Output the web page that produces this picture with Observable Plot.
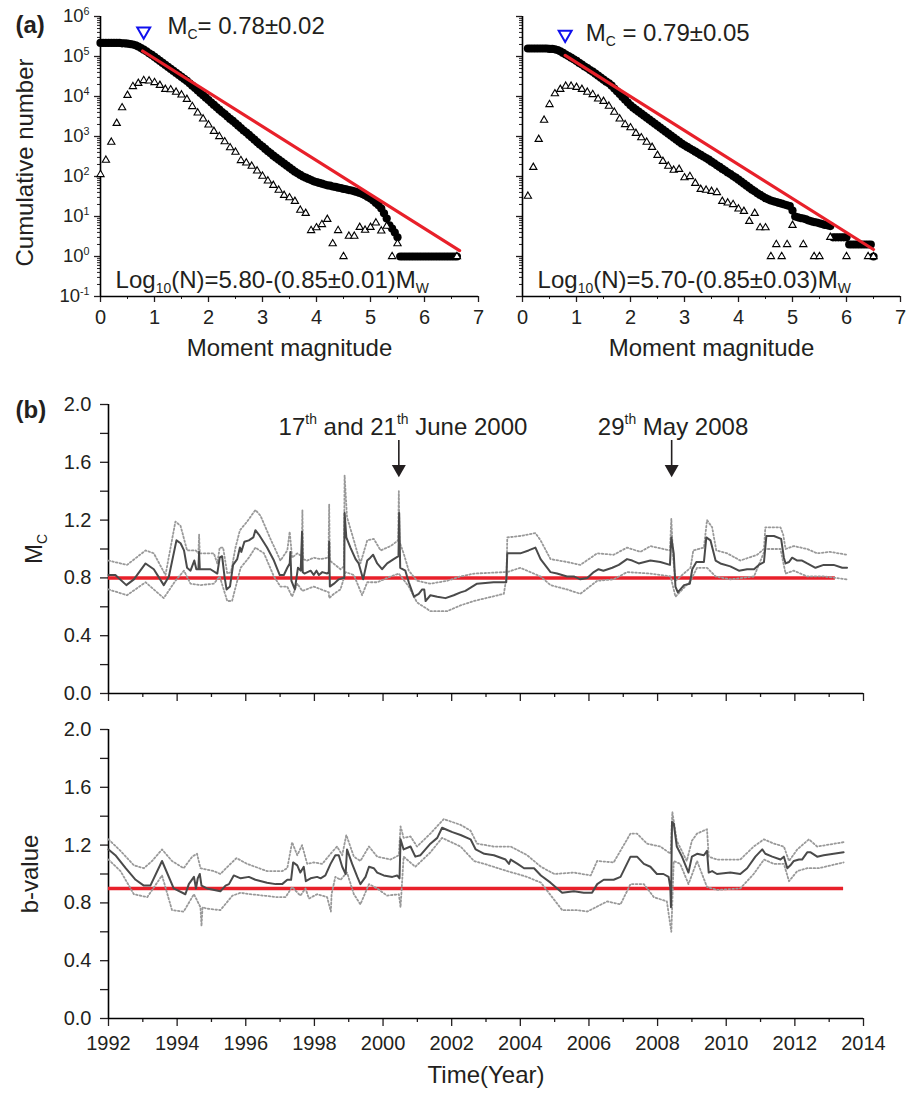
<!DOCTYPE html>
<html><head><meta charset="utf-8">
<script src="https://cdn.jsdelivr.net/npm/d3@7"></script>
<script src="https://cdn.jsdelivr.net/npm/@observablehq/plot@0.6"></script>
<style>
body{margin:0;background:#fff;}
#fig{position:relative;width:907px;height:1094px;overflow:hidden;}
</style></head><body><div id="fig"></div>
<script>
// ---------- DATA: panel (a) ----------
const cumStep = 0.05, incStep = 0.1;
// left: log10 of cumulative number, magnitudes from 0.00 step 0.05
const cumLeftStart = 0.0;
const cumLeftLog = [5.34,5.34,5.34,5.34,5.34,5.34,5.34,5.34,5.33,5.33,5.32,5.31,5.30,5.28,5.25,5.21,5.17,
 5.13,5.08,5.04,4.99,4.94,4.89,4.84,4.79,4.74,4.69,
 4.64,4.59,4.54,4.49,4.44,4.39,4.33,4.27,4.21,4.15,
 4.09,4.03,3.97,3.91,3.85,3.79,3.73,3.67,3.61,3.56,
 3.50,3.44,3.39,3.33,3.27,3.21,3.15,3.10,3.04,2.98,
 2.92,2.86,2.80,2.75,2.69,2.63,2.58,2.52,2.47,2.42,
 2.37,2.32,2.27,2.22,2.17,2.12,2.08,2.04,2.00,1.97,
 1.94,1.91,1.88,1.86,1.84,1.82,1.80,1.78,1.77,1.75,
 1.74,1.72,1.71,1.69,1.68,1.66,1.65,1.63,1.61,1.59,
 1.56,1.53,1.49,1.45,1.40,1.34,1.28,1.20,1.08,0.95,
 0.78,0.70,0.60,0.48,
 0,0,0,0,0,0,0,0,0,0,0,0,0,0,0,0,0,0,0,0,0,0];
// left: log10 of non-cumulative number, magnitudes from 0.0 step 0.1 (null = none)
const incLeftStart = 0.0;
const incLeftLog = [2.05,2.41,2.86,3.33,3.72,4.03,4.25,4.33,4.40,4.39,
 4.35,4.28,4.18,4.17,4.11,4.04,3.93,3.75,3.59,3.44,
 3.29,3.13,3.00,2.87,2.72,2.61,2.40,2.34,2.26,2.14,
 2.01,1.89,1.78,1.66,1.53,1.47,1.38,1.16,1.08,0.65,
 0.72,0.80,0.93,0.32,0.65,0,0.51,0.51,0.73,0.66,
 0.73,0.84,0.64,0.76,0,0.32,null,null,null,null,
 null,null,null,null,null,null,0];
// right
const cumRightStart = 0.1;
const cumRightLog = [5.20,5.20,5.20,5.20,5.20,5.20,5.20,5.20,5.19,5.19,
 5.18,5.16,5.13,5.09,5.05,5.01,4.97,4.93,4.89,4.84,
 4.80,4.75,4.71,4.66,4.62,4.57,4.52,4.47,4.42,4.37,
 4.33,4.27,4.20,4.13,4.06,3.99,3.92,3.85,3.78,3.72,
 3.67,3.62,3.57,3.52,3.47,3.42,3.37,3.32,3.27,3.22,
 3.17,3.12,3.07,3.02,2.97,2.92,2.87,2.82,2.78,2.74,
 2.70,2.66,2.62,2.58,2.54,2.50,2.46,2.42,2.37,2.33,
 2.28,2.24,2.19,2.15,2.10,2.06,2.01,1.97,1.92,1.87,
 1.82,1.77,1.72,1.67,1.63,1.58,1.54,1.50,1.46,1.43,
 1.40,1.38,1.36,1.34,1.32,1.30,1.28,1.26,1.15,1.00,
 0.98,0.96,0.95,0.93,0.90,0.88,0.86,0.85,0.83,0.81,
 0.79,0.78,0.76,0.48,0.48,0.48,0.48,0.48,0.48,0.30,
 0.30,0.30,0.30,0.30,0.30,0.30,0.30,0.30,0];
const incRightStart = 0.1;
const incRightLog = [1.51,2.23,2.93,3.41,3.80,4.07,4.18,4.26,4.26,4.23,
 4.18,4.11,4.05,3.94,3.88,3.76,3.61,3.44,3.30,3.22,
 3.08,2.97,2.86,2.73,2.53,2.38,2.26,2.16,2.18,1.97,
 2.00,1.83,1.68,1.66,1.63,1.60,1.38,1.34,1.30,1.19,
 1.13,0.88,1.08,0.72,0.72,0,0.30,0,0.30,0.78,
 null,0.30,null,0,0,null,0.48,null,null,0,
 null,null,null,0,0];
// Gutenberg-Richter fits: log10(N) = a - b*Mw, drawn from Mc to the largest event
const fitLeft = {a: 5.80, b: 0.85, mFrom: 0.78, mTo: 6.65};
const fitRight = {a: 5.70, b: 0.85, mFrom: 0.79, mTo: 6.50};
const mcMarkLeft = {m: 0.80, logN: 5.63};
const mcMarkRight = {m: 0.79, logN: 5.55};
const xTicksA = [0,1,2,3,4,5,6,7];
const yDecadesA = [0.1,1,10,100,1e3,1e4,1e5,1e6];

// ---------- DATA: panel (b) ----------
const mcMain = [[1992.0,0.82],[1992.2,0.82],[1992.52,0.75],[1992.74,0.79],[1993.08,0.90],[1993.32,0.86],[1993.61,0.75],[1993.76,0.81],[1993.98,1.06],[1994.1,1.04],[1994.2,0.99],[1994.29,0.87],[1994.39,0.85],[1994.5,0.92],[1994.56,0.86],[1994.62,0.86],[1994.64,0.98],[1994.66,0.86],[1994.97,0.86],[1995.17,0.83],[1995.24,0.94],[1995.31,0.95],[1995.38,0.81],[1995.44,0.72],[1995.54,0.74],[1995.63,0.89],[1995.75,0.93],[1995.83,1.01],[1995.87,0.98],[1995.96,1.05],[1996.09,1.06],[1996.22,1.08],[1996.28,1.13],[1996.38,1.10],[1996.62,1.01],[1996.82,0.92],[1996.99,0.82],[1997.11,0.82],[1997.21,0.87],[1997.28,0.90],[1997.3,0.98],[1997.33,0.78],[1997.43,0.72],[1997.52,0.87],[1997.6,0.85],[1997.64,1.12],[1997.66,0.84],[1997.71,0.83],[1997.89,0.85],[1997.98,0.82],[1998.06,0.85],[1998.13,0.82],[1998.23,0.84],[1998.37,0.83],[1998.42,0.84],[1998.43,1.05],[1998.45,0.74],[1998.57,0.76],[1998.71,0.79],[1998.84,0.80],[1998.87,0.80],[1998.88,1.25],[1998.93,1.08],[1999.05,1.01],[1999.2,0.93],[1999.29,0.90],[1999.42,0.79],[1999.54,0.92],[1999.63,0.94],[1999.71,0.96],[1999.83,0.90],[1999.97,0.86],[2000.12,0.90],[2000.31,0.93],[2000.45,0.95],[2000.47,1.25],[2000.5,0.87],[2000.65,0.85],[2000.75,0.77],[2000.9,0.67],[2001.04,0.69],[2001.14,0.72],[2001.2,0.72],[2001.24,0.64],[2001.38,0.68],[2001.58,0.67],[2001.82,0.66],[2002.06,0.68],[2002.26,0.70],[2002.4,0.71],[2002.74,0.76],[2003.22,0.77],[2003.59,0.77],[2003.62,0.97],[2004.0,0.97],[2004.24,0.99],[2004.44,1.01],[2004.59,0.93],[2004.88,0.84],[2005.07,0.83],[2005.36,0.81],[2005.56,0.81],[2005.75,0.79],[2005.95,0.80],[2006.14,0.84],[2006.28,0.86],[2006.42,0.85],[2006.68,0.87],[2006.87,0.89],[2007.11,0.93],[2007.26,0.92],[2007.45,0.90],[2007.79,0.92],[2008.08,0.91],[2008.36,0.89],[2008.40,1.08],[2008.47,0.97],[2008.52,0.74],[2008.59,0.70],[2008.77,0.75],[2008.94,0.76],[2009.01,0.86],[2009.13,0.91],[2009.35,0.91],[2009.42,1.08],[2009.54,1.06],[2009.69,0.92],[2009.83,0.90],[2010.12,0.88],[2010.37,0.85],[2010.61,0.86],[2010.81,0.86],[2010.95,0.89],[2011.1,0.91],[2011.17,1.09],[2011.39,1.09],[2011.6,1.07],[2011.68,0.94],[2011.73,0.90],[2011.83,0.91],[2011.92,0.94],[2012.07,0.92],[2012.21,0.92],[2012.36,0.90],[2012.6,0.87],[2012.84,0.89],[2013.13,0.89],[2013.38,0.87],[2013.52,0.87]];
const mcUpper = [[1992.0,0.92],[1992.54,0.89],[1993.08,0.99],[1993.32,0.97],[1993.66,0.82],[1993.95,1.19],[1994.1,1.16],[1994.29,0.99],[1994.54,0.99],[1994.62,0.97],[1994.64,1.10],[1994.66,0.97],[1995.07,0.97],[1995.17,0.90],[1995.24,1.01],[1995.34,1.01],[1995.46,0.83],[1995.57,0.84],[1995.7,1.01],[1995.83,1.13],[1996.04,1.19],[1996.28,1.27],[1996.43,1.23],[1996.72,1.07],[1997.01,0.92],[1997.21,0.99],[1997.28,1.12],[1997.35,0.94],[1997.5,0.97],[1997.63,0.95],[1997.65,1.27],[1997.67,0.93],[1997.79,0.92],[1997.98,0.94],[1998.18,0.93],[1998.41,0.94],[1998.43,1.31],[1998.45,0.92],[1998.76,0.86],[1998.86,0.88],[1998.88,1.51],[1998.95,1.22],[1999.15,1.06],[1999.34,0.90],[1999.54,1.06],[1999.73,1.07],[1999.93,0.99],[2000.22,1.02],[2000.44,1.06],[2000.46,1.40],[2000.48,1.05],[2000.6,0.97],[2000.75,0.85],[2000.99,0.78],[2001.38,0.76],[2001.87,0.78],[2002.26,0.81],[2002.65,0.83],[2003.52,0.84],[2003.6,0.84],[2003.62,1.08],[2004.0,1.09],[2004.44,1.11],[2004.59,1.06],[2004.88,0.93],[2005.36,0.91],[2005.75,0.89],[2006.24,0.97],[2006.72,0.96],[2007.11,1.01],[2007.5,0.98],[2007.79,1.02],[2008.36,0.99],[2008.40,1.21],[2008.45,0.95],[2008.52,0.78],[2008.96,0.87],[2009.04,0.99],[2009.35,1.01],[2009.44,1.20],[2009.59,1.15],[2009.71,0.99],[2010.03,0.97],[2010.41,0.92],[2010.9,0.96],[2011.1,1.00],[2011.14,1.15],[2011.58,1.15],[2011.66,1.10],[2011.73,1.00],[2011.97,1.02],[2012.36,1.00],[2012.65,0.97],[2013.03,0.98],[2013.52,0.96]];
const mcLower = [[1992.0,0.72],[1992.54,0.68],[1993.08,0.77],[1993.61,0.66],[1993.95,0.78],[1994.2,0.85],[1994.39,0.76],[1994.68,0.75],[1995.07,0.76],[1995.24,0.81],[1995.46,0.64],[1995.6,0.64],[1995.85,0.87],[1996.09,0.94],[1996.28,1.01],[1996.53,0.97],[1996.82,0.81],[1997.01,0.74],[1997.21,0.74],[1997.35,0.67],[1997.5,0.76],[1997.65,0.71],[1997.98,0.74],[1998.42,0.70],[1998.43,0.66],[1998.57,0.69],[1998.76,0.72],[1998.91,0.84],[1999.15,0.82],[1999.39,0.68],[1999.54,0.77],[1999.83,0.77],[2000.22,0.81],[2000.46,0.83],[2000.75,0.74],[2000.99,0.63],[2001.38,0.57],[2001.87,0.57],[2002.26,0.61],[2002.65,0.64],[2003.52,0.69],[2003.62,0.84],[2004.0,0.87],[2004.59,0.81],[2004.88,0.75],[2005.36,0.72],[2005.75,0.69],[2006.24,0.78],[2006.72,0.79],[2007.11,0.84],[2007.79,0.83],[2008.38,0.81],[2008.52,0.67],[2008.96,0.78],[2009.15,0.87],[2009.44,0.87],[2009.69,0.81],[2010.12,0.79],[2010.81,0.81],[2011.14,1.00],[2011.58,1.00],[2011.73,0.83],[2011.97,0.85],[2012.36,0.81],[2012.84,0.81],[2013.52,0.79]];
const bMain = [[1992.0,1.17],[1992.2,1.13],[1992.5,1.04],[1992.79,0.96],[1993.03,0.92],[1993.22,0.92],[1993.56,1.09],[1993.9,0.90],[1994.24,0.86],[1994.34,0.93],[1994.49,0.98],[1994.55,0.90],[1994.6,0.97],[1994.66,1.00],[1994.71,0.92],[1994.87,0.90],[1995.26,0.88],[1995.41,0.92],[1995.51,0.93],[1995.65,0.99],[1995.85,0.97],[1996.09,0.98],[1996.28,0.96],[1996.62,0.94],[1996.87,0.93],[1997.06,0.93],[1997.21,0.96],[1997.32,0.96],[1997.38,1.08],[1997.5,1.06],[1997.59,1.01],[1997.69,1.05],[1997.75,0.95],[1997.89,0.97],[1998.08,0.98],[1998.18,0.97],[1998.32,0.99],[1998.47,1.07],[1998.61,1.13],[1998.71,1.13],[1998.81,1.05],[1998.91,1.00],[1998.95,1.17],[1999.1,1.07],[1999.25,0.98],[1999.34,0.93],[1999.49,0.98],[1999.59,1.05],[1999.73,1.04],[1999.83,1.01],[2000.02,0.99],[2000.27,0.98],[2000.41,0.99],[2000.48,0.97],[2000.51,1.24],[2000.6,1.17],[2000.8,1.19],[2000.94,1.12],[2001.09,1.13],[2001.38,1.21],[2001.58,1.25],[2001.72,1.32],[2001.82,1.31],[2002.02,1.29],[2002.26,1.27],[2002.55,1.24],[2002.7,1.17],[2002.95,1.14],[2003.23,1.13],[2003.57,1.10],[2003.67,1.07],[2003.72,1.10],[2003.92,1.07],[2004.11,1.04],[2004.4,1.04],[2004.6,0.99],[2004.88,0.94],[2005.22,0.87],[2005.56,0.88],[2005.85,0.87],[2006.09,0.87],[2006.24,0.93],[2006.43,0.96],[2006.72,0.96],[2006.92,0.98],[2007.21,1.12],[2007.4,1.12],[2007.6,1.07],[2007.79,1.05],[2007.98,1.00],[2008.17,1.00],[2008.32,0.98],[2008.37,0.91],[2008.39,0.77],[2008.42,1.36],[2008.47,1.35],[2008.56,1.19],[2008.71,1.12],[2008.9,1.01],[2009.0,1.12],[2009.15,1.14],[2009.35,1.13],[2009.44,1.16],[2009.49,1.01],[2009.59,1.02],[2009.73,1.00],[2010.12,1.01],[2010.41,1.00],[2010.61,1.04],[2010.85,1.12],[2011.05,1.17],[2011.14,1.14],[2011.34,1.12],[2011.58,1.10],[2011.68,1.12],[2011.78,1.04],[2011.87,1.06],[2011.97,1.09],[2012.12,1.10],[2012.21,1.10],[2012.36,1.15],[2012.46,1.15],[2012.65,1.12],[2012.84,1.13],[2013.13,1.14],[2013.42,1.15]];
const bUpper = [[1992.0,1.24],[1992.35,1.16],[1992.74,1.06],[1993.03,1.04],[1993.27,1.09],[1993.56,1.17],[1993.85,1.09],[1994.19,1.04],[1994.44,1.12],[1994.58,1.14],[1994.68,1.04],[1995.07,1.02],[1995.26,1.00],[1995.51,1.06],[1995.73,1.11],[1996.04,1.07],[1996.62,1.02],[1997.06,1.02],[1997.21,1.04],[1997.35,1.22],[1997.5,1.13],[1997.64,1.20],[1997.79,1.07],[1997.98,1.08],[1998.23,1.07],[1998.47,1.14],[1998.66,1.19],[1998.81,1.13],[1998.93,1.27],[1999.15,1.12],[1999.34,1.09],[1999.59,1.19],[1999.83,1.12],[2000.22,1.10],[2000.46,1.13],[2000.51,1.33],[2000.6,1.25],[2000.8,1.26],[2000.99,1.19],[2001.38,1.28],[2001.77,1.38],[2002.26,1.34],[2002.55,1.30],[2002.74,1.21],[2003.23,1.19],[2003.72,1.19],[2004.2,1.13],[2004.6,1.05],[2004.99,1.00],[2005.56,1.01],[2006.05,0.99],[2006.24,1.09],[2006.72,1.08],[2007.21,1.28],[2007.4,1.28],[2007.69,1.21],[2008.08,1.19],[2008.38,1.14],[2008.43,1.43],[2008.56,1.23],[2008.85,1.09],[2009.0,1.23],[2009.15,1.28],[2009.44,1.31],[2009.49,1.12],[2009.73,1.10],[2010.41,1.10],[2010.8,1.19],[2011.1,1.24],[2011.39,1.21],[2011.68,1.19],[2011.83,1.09],[2012.07,1.17],[2012.41,1.24],[2012.65,1.19],[2013.42,1.22]];
const bLower = [[1992.0,1.10],[1992.35,1.02],[1992.74,0.86],[1993.13,0.84],[1993.56,0.99],[1993.85,0.75],[1994.19,0.74],[1994.49,0.86],[1994.68,0.77],[1994.71,0.64],[1994.74,0.77],[1994.87,0.76],[1995.26,0.75],[1995.61,0.85],[1995.85,0.87],[1996.14,0.86],[1996.53,0.85],[1996.91,0.84],[1997.16,0.84],[1997.35,0.91],[1997.59,0.85],[1997.74,0.90],[1997.84,0.83],[1998.08,0.86],[1998.37,0.84],[1998.48,0.74],[1998.5,0.86],[1998.61,0.98],[1998.76,0.96],[1998.95,1.01],[1999.15,0.86],[1999.34,0.79],[1999.59,0.93],[1999.83,0.90],[2000.12,0.85],[2000.46,0.86],[2000.51,0.77],[2000.6,1.12],[2000.94,1.05],[2001.38,1.15],[2001.72,1.25],[2002.26,1.19],[2002.65,1.09],[2002.95,1.07],[2003.62,1.02],[2004.2,0.98],[2004.6,0.94],[2005.22,0.75],[2005.66,0.75],[2005.95,0.74],[2006.53,0.81],[2006.92,0.79],[2007.21,0.93],[2007.6,0.93],[2007.89,0.84],[2008.27,0.81],[2008.4,0.60],[2008.47,1.09],[2008.66,1.07],[2008.9,0.93],[2009.15,1.09],[2009.44,0.91],[2009.73,0.89],[2010.41,0.90],[2010.8,1.00],[2011.1,1.10],[2011.39,1.07],[2011.68,1.07],[2011.83,0.95],[2012.07,1.02],[2012.36,1.04],[2012.7,1.04],[2013.42,1.08]];
const mcRef = {value: 0.8, from: 1992, to: 2013.18};
const bRef = {value: 0.9, from: 1992, to: 2013.42};
const events = [
  {date: 2000.46, label: "17^{th} and 21^{th} June 2000", labelX: 2000.58},
  {date: 2008.41, label: "29^{th} May 2008", labelX: 2008.45}
];
const yearTicks = [1992,1994,1996,1998,2000,2002,2004,2006,2008,2010,2012,2014];
const yearMinor = [1993,1995,1997,1999,2001,2003,2005,2007,2009,2011,2013];
const yTicksB = [0,0.4,0.8,1.2,1.6,2.0];
const yMinorB = [0.2,0.6,1.0,1.4,1.8];

// ---------- helpers ----------
const FONT = '"Liberation Sans", Arial, Helvetica, sans-serif';
const RED = "#e8202a", INK = "#231f20";
const fig = document.getElementById("fig");

function richify(svg) {
  for (const t of svg.querySelectorAll("text")) {
    const s = t.textContent;
    if (!/[_^]\{/.test(s)) continue;
    const fs = parseFloat(getComputedStyle(t).fontSize) || 16;
    const parts = []; const re = /([_^])\{([^}]*)\}/g; let last = 0, m;
    while ((m = re.exec(s))) {
      if (m.index > last) parts.push(["", s.slice(last, m.index)]);
      parts.push([m[1], m[2]]); last = re.lastIndex;
    }
    if (last < s.length) parts.push(["", s.slice(last)]);
    t.textContent = "";
    let cur = 0;
    for (const [k, str] of parts) {
      const ts = document.createElementNS("http://www.w3.org/2000/svg", "tspan");
      const target = k === "_" ? 0.22 * fs : k === "^" ? -0.42 * fs : 0;
      if (target !== cur) ts.setAttribute("dy", (target - cur).toFixed(2));
      cur = target;
      if (k) ts.setAttribute("font-size", (0.58 * fs).toFixed(2));
      ts.textContent = str;
      t.appendChild(ts);
    }
  }
}
function mount(svg, left, top) {
  svg.style.position = "absolute";
  svg.style.left = left + "px";
  svg.style.top = top + "px";
  svg.style.overflow = "visible";
  fig.appendChild(svg);
  richify(svg);
}
const seq = (start, step, arr) => arr.map((v, i) => ({m: +(start + i * step).toFixed(2), N: v == null ? null : Math.pow(10, v)})).filter(d => d.N != null);
const minorLog = [];
for (let e = -1; e < 6; e++) for (let k = 2; k <= 9; k++) minorLog.push(k * Math.pow(10, e));

function grPanel({cum, inc, fit, mark, mcText, mcPos, eqText, showY, width, marginLeft, marginRight, extra}) {
  const fitLine = [fit.mFrom, fit.mTo].map(m => ({m, N: Math.pow(10, fit.a - fit.b * m)}));
  return Plot.plot({
    width, height: 370, marginLeft, marginRight, marginTop: 16, marginBottom: 74,
    x: {domain: [0, 7]},
    y: {type: "log", domain: [0.1, 1e6]},
    style: {fontFamily: FONT, color: INK, background: "transparent"},
    marks: [
      Plot.axisY({ticks: yDecadesA, tickSize: 6, tickPadding: 5, strokeWidth: 1.3, fontSize: 18.5,
        tickFormat: showY ? d => "10^{" + Math.round(Math.log10(d)) + "}" : () => "", label: null}),
      Plot.axisY({ticks: minorLog, tickSize: 3, strokeWidth: 1, tickFormat: () => "", label: null}),
      Plot.axisX({ticks: xTicksA, tickSize: 6, tickPadding: 7, strokeWidth: 1.3, fontSize: 20, tickFormat: d => String(d), label: null}),
      Plot.axisX({ticks: [0.5,1.5,2.5,3.5,4.5,5.5,6.5], tickSize: 3, strokeWidth: 1, tickFormat: () => "", label: null}),
      Plot.ruleX([0], {stroke: "#000", strokeWidth: 1.6}),
      Plot.ruleY([0.1], {stroke: "#000", strokeWidth: 1.6}),
      Plot.dot(cum, {x: "m", y: "N", r: 4.1, fill: "#000", stroke: "none"}),
      Plot.dot(inc, {x: "m", y: "N", symbol: "triangle", r: 2.7, fill: "#fff", stroke: "#000", strokeWidth: 1.1}),
      Plot.line(fitLine, {x: "m", y: "N", stroke: RED, strokeWidth: 3.2}),
      Plot.dot([mark], {x: "m", y: d => Math.pow(10, d.logN), symbol: "triangle", rotate: 180, r: 4.8, fill: "none", stroke: "#1010ee", strokeWidth: 2}),
      Plot.text([mcText], {x: mcPos.m, y: Math.pow(10, mcPos.logN), textAnchor: "start", lineAnchor: "bottom", fontSize: 24, fill: INK}),
      Plot.text([eqText], {x: 0.28, y: Math.pow(10, -0.775), textAnchor: "start", lineAnchor: "bottom", fontSize: 24, fill: INK}),
      Plot.text(["Moment magnitude"], {frameAnchor: "bottom", dy: 59, textAnchor: "middle", lineAnchor: "bottom", fontSize: 24, fill: INK}),
      ...(extra || [])
    ]
  });
}

// ---------- panel (a) ----------
mount(grPanel({
  cum: seq(cumLeftStart, cumStep, cumLeftLog), inc: seq(incLeftStart, incStep, incLeftLog),
  fit: fitLeft, mark: mcMarkLeft, mcText: "M_{C}= 0.78±0.02", mcPos: {m: 1.24, logN: 5.575},
  eqText: "Log_{10}(N)=5.80-(0.85±0.01)M_{W}", showY: true, width: 490, marginLeft: 100, marginRight: 12,
  extra: [
    Plot.text(["Cumulative number"], {frameAnchor: "left", rotate: -90, dx: -75, dy: 6, textAnchor: "middle", lineAnchor: "middle", fontSize: 24, fill: INK}),
    Plot.text(["(a)"], {frameAnchor: "top-left", dx: -85, dy: 16, textAnchor: "start", lineAnchor: "bottom", fontSize: 24, fontWeight: "bold", fill: INK})
  ]
}), 0, 0);
mount(grPanel({
  cum: seq(cumRightStart, cumStep, cumRightLog), inc: seq(incRightStart, incStep, incRightLog),
  fit: fitRight, mark: mcMarkRight, mcText: "M_{C} = 0.79±0.05", mcPos: {m: 1.17, logN: 5.40},
  eqText: "Log_{10}(N)=5.70-(0.85±0.03)M_{W}", showY: false, width: 457, marginLeft: 72, marginRight: 7
}), 450, 0);

// ---------- panel (b) ----------
function tsPanel({main, upper, lower, ref, height, marginBottom, yLabel, yLabelDx, showX, extra}) {
  const acc = {x: d => d[0], y: d => d[1]};
  const dotted = {...acc, stroke: "#999", strokeWidth: 1.8, strokeDasharray: "1.6,2.2"};
  return Plot.plot({
    width: 907, height, marginLeft: 108, marginRight: 44, marginTop: 24, marginBottom,
    x: {domain: [1992, 2014]}, y: {domain: [0, 2]},
    style: {fontFamily: FONT, color: INK, background: "transparent"},
    marks: [
      Plot.axisY({ticks: yTicksB, tickSize: 8, tickPadding: 9, strokeWidth: 1.3, fontSize: 20, tickFormat: d => d.toFixed(1), label: null}),
      Plot.axisY({ticks: yMinorB, tickSize: 8, strokeWidth: 1.3, tickFormat: () => "", label: null}),
      Plot.axisX({ticks: yearTicks, tickSize: 8, tickPadding: 9, strokeWidth: 1.3, fontSize: 20, tickFormat: showX ? d => String(d) : () => "", label: null}),
      Plot.axisX({ticks: yearMinor, tickSize: 4, strokeWidth: 1.3, tickFormat: () => "", label: null}),
      Plot.ruleX([1992], {stroke: "#000", strokeWidth: 1.6}),
      Plot.ruleY([0], {stroke: "#000", strokeWidth: 1.6}),
      Plot.ruleY([ref], {y: "value", x1: "from", x2: "to", stroke: RED, strokeWidth: 3.5}),
      Plot.line(upper, dotted),
      Plot.line(lower, dotted),
      Plot.line(main, {...acc, stroke: "#4a4a4a", strokeWidth: 2}),
      Plot.text([yLabel], {frameAnchor: "left", rotate: -90, dx: yLabelDx, textAnchor: "middle", lineAnchor: "middle", fontSize: 24, fill: INK}),
      ...(extra || [])
    ]
  });
}
mount(tsPanel({
  main: mcMain, upper: mcUpper, lower: mcLower, ref: mcRef, height: 325, marginBottom: 12,
  yLabel: "M_{C}", yLabelDx: -74, showX: false,
  extra: [
    Plot.ruleX(events, {x: "date", y1: 1.751, y2: 1.57, stroke: INK, strokeWidth: 1.6}),
    Plot.dot(events, {x: "date", y: 1.553, symbol: "triangle", rotate: 180, r: 5.2, fill: INK, stroke: "none"}),
    Plot.text(events, {x: "labelX", y: 1.792, text: "label", textAnchor: "middle", lineAnchor: "bottom", fontSize: 24, fill: INK}),
    Plot.text(["(b)"], {frameAnchor: "top-left", dx: -93, dy: 13, textAnchor: "start", lineAnchor: "bottom", fontSize: 24, fontWeight: "bold", fill: INK})
  ]
}), 0, 380);
mount(tsPanel({
  main: bMain, upper: bUpper, lower: bLower, ref: bRef, height: 389, marginBottom: 76,
  yLabel: "b-value", yLabelDx: -78, showX: true,
  extra: [
    Plot.text(["Time(Year)"], {frameAnchor: "bottom", dy: 64, textAnchor: "middle", lineAnchor: "bottom", fontSize: 24, fill: INK})
  ]
}), 0, 705);
</script>
</body></html>
